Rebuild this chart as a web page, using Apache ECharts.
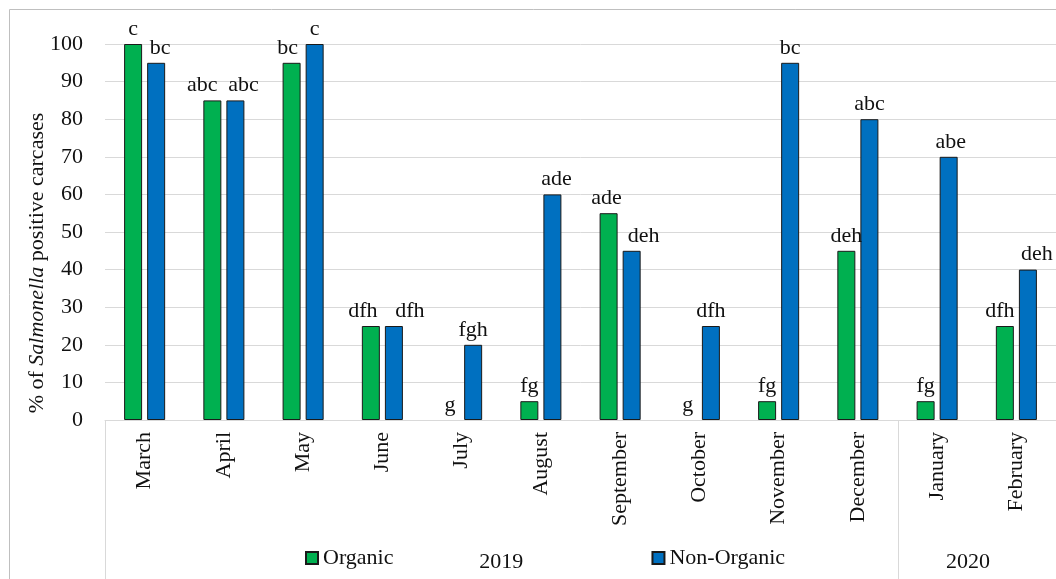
<!DOCTYPE html>
<html>
<head>
<meta charset="utf-8">
<script src="https://cdn.jsdelivr.net/npm/echarts@6/dist/echarts.min.js"></script>
<style>
  html, body { margin: 0; padding: 0; background: #fff; }
  #chart { width: 1056px; height: 579px; }
</style>
</head>
<body>
<div id="chart"></div>
<script>
// data
var months = ['March','April','May','June','July','August','September','October','November','December','January','February'];
var organic = [100, 85, 95, 25, 0, 5, 55, 0, 5, 45, 5, 25];
var nonOrganic = [95, 85, 100, 25, 20, 60, 45, 25, 95, 80, 70, 40];
var organicLetters = ['c','abc','bc','dfh','g','fg','ade','g','fg','deh','fg','dfh'];
var nonOrganicLetters = ['bc','abc','c','dfh','fgh','ade','deh','dfh','bc','abc','abe','deh'];
var yTicks = { min: 0, max: 100, step: 10 };
var years = ['2019', '2020'];

// horizontal nudges of letter labels so neighbours don't collide (style only)
var organicNudge = [0, -10, -4, -8, 0, 0, -2, 0, 0, 0, 0, -5];
var nonOrganicNudge = [4, 8, 0, 16, 0, 4, 12, 0, 0, 0, 2, 9];

var serif = '"Liberation Serif", "Times New Roman", serif';

var chart = echarts.init(document.getElementById('chart'));

function letterLabel(letters) {
  return {
    show: true,
    position: 'top',
    distance: 4,
    fontFamily: serif,
    fontSize: 22,
    color: '#111',
    formatter: function (p) { return letters[p.dataIndex]; }
  };
}

function buildItems(values, nudge) {
  return values.map(function (v, i) {
    var item = { value: v, label: { offset: [nudge[i], 0] } };
    if (v === 0) item.itemStyle = { borderWidth: 0 };
    return item;
  });
}

var option = {
  backgroundColor: '#fff',
  animation: false,
  grid: { left: 105, top: 44, width: 961, height: 376, containLabel: false },
  legend: {
    left: 300,
    top: 542,
    itemWidth: 12,
    itemHeight: 12,
    itemGap: 258,
    icon: 'rect',
    textStyle: { fontFamily: serif, fontSize: 22, color: '#111' },
    data: ['Organic', 'Non-Organic']
  },
  xAxis: {
    type: 'category',
    data: months,
    axisLine: { lineStyle: { color: '#d9d9d9', width: 1 } },
    axisTick: { show: false },
    axisLabel: { rotate: 90, margin: 12, fontFamily: serif, fontSize: 22, color: '#111' }
  },
  yAxis: {
    type: 'value',
    min: yTicks.min,
    max: yTicks.max,
    interval: yTicks.step,
    axisLine: { show: false },
    axisTick: { show: false },
    splitLine: { lineStyle: { color: '#d9d9d9', width: 1 } },
    axisLabel: { margin: 22, fontFamily: serif, fontSize: 22, color: '#111' }
  },
  series: [
    {
      name: 'Organic',
      type: 'bar',
      data: buildItems(organic, organicNudge),
      barWidth: 18,
      barGap: '28%',
      itemStyle: { color: '#00b050', borderColor: '#1a1a1a', borderWidth: 1 },
      label: letterLabel(organicLetters)
    },
    {
      name: 'Non-Organic',
      type: 'bar',
      data: buildItems(nonOrganic, nonOrganicNudge),
      barWidth: 18,
      itemStyle: { color: '#0070c0', borderColor: '#1a1a1a', borderWidth: 1 },
      label: letterLabel(nonOrganicLetters)
    }
  ]
};
chart.setOption(option);

// multi-level category lines and year labels, placed from the axis scale
var x0 = chart.convertToPixel({ xAxisIndex: 0 }, months[0]);
var x1 = chart.convertToPixel({ xAxisIndex: 0 }, months[1]);
var band = x1 - x0;
var leftEdge = x0 - band / 2;
var sep = (chart.convertToPixel({ xAxisIndex: 0 }, months[9]) + chart.convertToPixel({ xAxisIndex: 0 }, months[10])) / 2;
var yBase = chart.convertToPixel({ yAxisIndex: 0 }, 0);

chart.setOption({
  graphic: [
    { type: 'rect', shape: { x: 9.5, y: 9.5, width: 1100, height: 700 }, style: { fill: 'none', stroke: '#bfbfbf', lineWidth: 1 }, silent: true },
    { type: 'line', shape: { x1: Math.round(leftEdge) + 0.5, y1: yBase, x2: Math.round(leftEdge) + 0.5, y2: 579 }, style: { stroke: '#d9d9d9', lineWidth: 1 } },
    { type: 'line', shape: { x1: Math.round(sep) + 0.5, y1: yBase, x2: Math.round(sep) + 0.5, y2: 579 }, style: { stroke: '#d9d9d9', lineWidth: 1 } },
    { type: 'text', x: (leftEdge + sep) / 2, y: 562, style: { text: years[0], font: '22px ' + serif, fill: '#111', align: 'center', verticalAlign: 'middle' } },
    { type: 'text', x: 968, y: 562, style: { text: years[1], font: '22px ' + serif, fill: '#111', align: 'center', verticalAlign: 'middle' } },
    {
      type: 'text', x: 37, y: 263, rotation: Math.PI / 2,
      style: {
        text: '{a|% of }{b|Salmonella}{a| positive carcases}',
        align: 'center', verticalAlign: 'middle',
        rich: {
          a: { fontFamily: serif, fontSize: 22, fill: '#111' },
          b: { fontFamily: serif, fontSize: 22, fontStyle: 'italic', fill: '#111' }
        }
      }
    }
  ]
});
</script>
</body>
</html>
